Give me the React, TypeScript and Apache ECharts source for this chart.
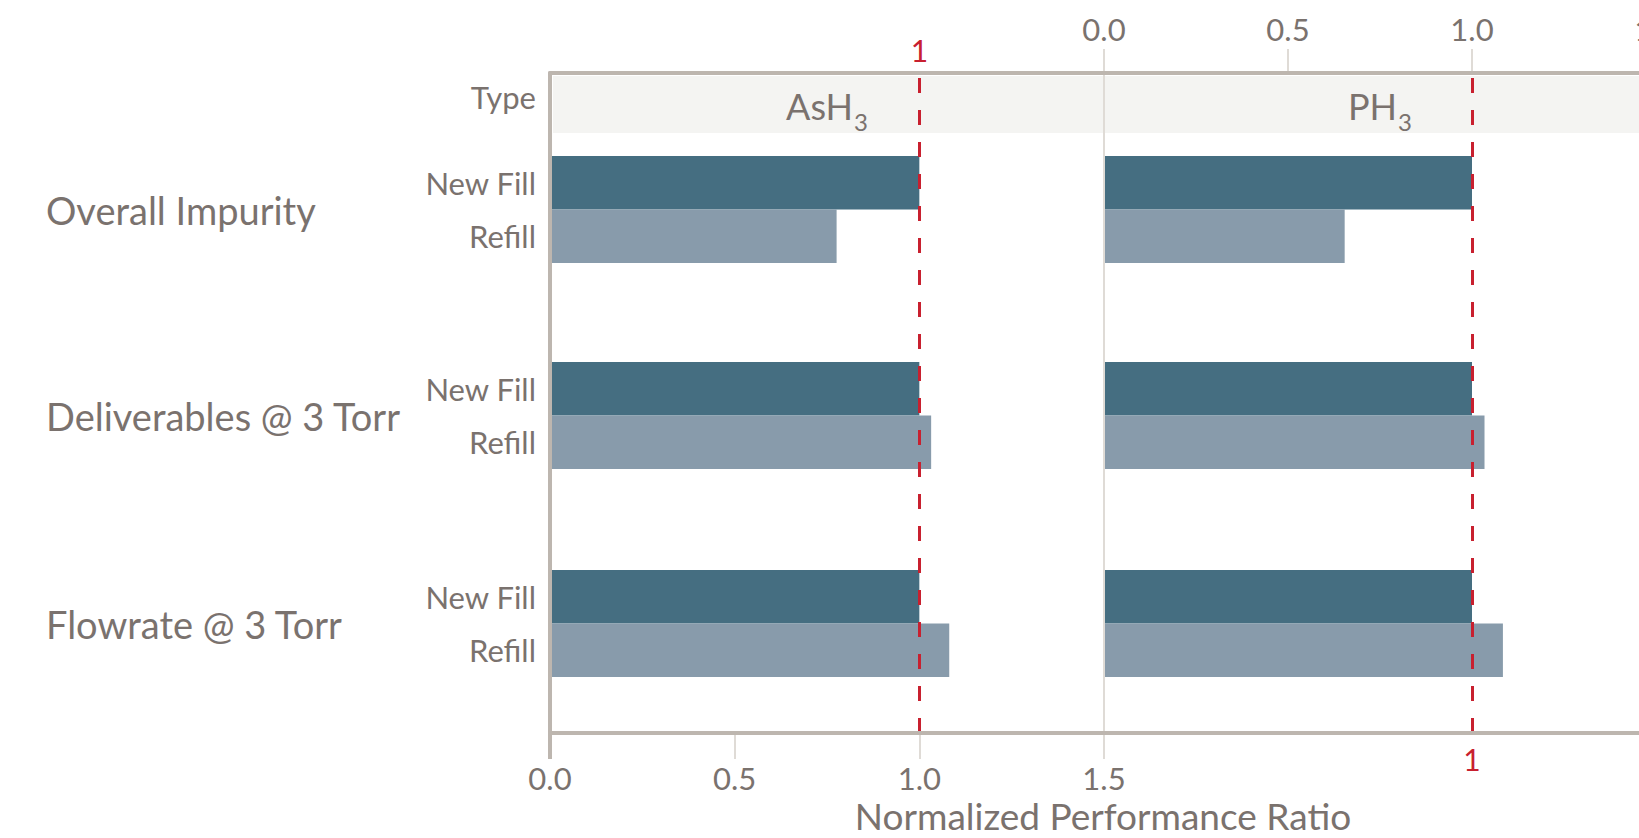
import React, { useEffect, useRef } from "react";
import * as echarts from "echarts";

// ---- data ----
const PANELS = ["AsH3", "PH3"];
const ROW_HEADER = "Type";
const GROUPS = ["Overall Impurity", "Deliverables @ 3 Torr", "Flowrate @ 3 Torr"];
const FILLS = ["New Fill", "Refill"];
const ASH3_NEW_FILL = [1.0, 1.0, 1.0];
const ASH3_REFILL = [0.776, 1.032, 1.081];
const PH3_NEW_FILL = [1.0, 1.0, 1.0];
const PH3_REFILL = [0.654, 1.034, 1.084];
const X_MIN = 0;
const X_MAX = 1.5;
const X_STEP = 0.5;
const REFERENCE = 1;
const X_TITLE = "Normalized Performance Ratio";

// ---- style ----
const TEXT = "#7a726e";
const BORDER = "#bdb6af";
const LIGHT = "#dfdbd6";
const BAND = "#f4f4f2";
const RED = "#c8202f";
const NEW_COLOR = "#456e81";
const REFILL_COLOR = "#889bab";
const FONT = "Lato, 'Open Sans', sans-serif";
const WEIGHT = 400;

// ---- layout ----
const W = 1639;
const H = 838;
const LEFT = 550;
const SEP = 1104;
const RIGHT = 1656;
const TOP = 73;
const BOTTOM = 733;
const HEADER_BOTTOM = 133;
const GROUP_TOPS = [156, 362, 570];
const GROUP_H = 107;

const panelValues = [
  [ASH3_NEW_FILL, ASH3_REFILL],
  [PH3_NEW_FILL, PH3_REFILL],
];

const txt = (size: number, extra: any = {}) => ({
  fontSize: size, color: TEXT, fontFamily: FONT, fontWeight: WEIGHT, ...extra,
});

function buildOption() {
  const grid: any[] = [
    { left: LEFT, top: TOP, width: RIGHT - LEFT, height: BOTTOM - TOP },
    { left: LEFT, top: TOP, width: SEP - LEFT, height: BOTTOM - TOP },
    { left: SEP, top: TOP, width: RIGHT - SEP, height: BOTTOM - TOP },
  ];
  const xAxis: any[] = [
    {
      gridIndex: 0, type: "value", min: 0, max: 1, position: "bottom", z: 12,
      axisLine: { show: true, onZero: false, lineStyle: { color: BORDER, width: 4 } },
      axisTick: { show: true, customValues: [0], length: 26, lineStyle: { color: BORDER, width: 4 } },
      axisLabel: { show: false }, splitLine: { show: false },
      name: X_TITLE, nameLocation: "middle", nameGap: 64,
      nameTextStyle: txt(37),
    },
    {
      gridIndex: 0, type: "value", min: 0, max: 1, position: "top", z: 12,
      axisLine: { show: true, onZero: false, lineStyle: { color: BORDER, width: 4 } },
      axisTick: { show: false }, axisLabel: { show: false }, splitLine: { show: false },
    },
    {
      gridIndex: 1, type: "value", min: X_MIN, max: X_MAX, interval: X_STEP, position: "bottom", z: 10,
      axisLine: { show: false, onZero: false },
      axisTick: { show: true, length: 26, lineStyle: { color: LIGHT, width: 2 } },
      axisLabel: { ...txt(31), margin: 29, formatter: (v: number) => v.toFixed(1) },
      splitLine: { show: false },
    },
    {
      gridIndex: 2, type: "value", min: X_MIN, max: X_MAX, interval: X_STEP, position: "top", z: 10,
      axisLine: { show: false, onZero: false },
      axisTick: { show: true, length: 24, lineStyle: { color: LIGHT, width: 2 } },
      axisLabel: { ...txt(31), margin: 29, formatter: (v: number) => v.toFixed(1) },
      splitLine: { show: false },
    },
  ];
  const yAxis: any[] = [
    {
      gridIndex: 0, type: "value", min: 0, max: 1, z: 12,
      axisLine: { show: true, onZero: false, lineStyle: { color: BORDER, width: 4 } },
      axisTick: { show: false }, axisLabel: { show: false }, splitLine: { show: false },
    },
    { gridIndex: 1, type: "value", min: 0, max: 1, show: false, axisLine: { onZero: false } },
    {
      gridIndex: 2, type: "value", min: 0, max: 1, z: 10,
      axisLine: { show: true, onZero: false, lineStyle: { color: LIGHT, width: 2 } },
      axisTick: { show: false }, axisLabel: { show: false }, splitLine: { show: false },
    },
  ];
  const series: any[] = [
    {
      type: "line", xAxisIndex: 2, yAxisIndex: 1, data: [], z: 1,
      markLine: {
        silent: true, symbol: ["none", "none"], animation: false,
        lineStyle: { color: RED, width: 3, type: [15, 17] },
        label: { show: true, position: "end", distance: 8, formatter: String(REFERENCE), ...txt(30), color: RED },
        data: [{ xAxis: REFERENCE }],
      },
    },
    {
      type: "line", xAxisIndex: 3, yAxisIndex: 2, data: [], z: 1,
      markLine: {
        silent: true, symbol: ["none", "none"], animation: false,
        lineStyle: { color: RED, width: 3, type: [15, 17] },
        label: { show: true, position: "start", distance: 11, formatter: String(REFERENCE), ...txt(30), color: RED },
        data: [{ xAxis: REFERENCE }],
      },
    },
  ];

  PANELS.forEach((_, p) => {
    GROUPS.forEach((group, g) => {
      const gi = grid.length;
      const left = p === 0 ? LEFT : SEP;
      const right = p === 0 ? SEP : RIGHT;
      grid.push({ left, top: GROUP_TOPS[g], width: right - left, height: GROUP_H });
      xAxis.push({ gridIndex: gi, type: "value", min: X_MIN, max: X_MAX, show: false, axisLine: { onZero: false } });
      yAxis.push(
        p === 0
          ? {
              gridIndex: gi, type: "category", data: FILLS, inverse: true,
              axisLine: { show: false, onZero: false }, axisTick: { show: false }, splitLine: { show: false },
              axisLabel: { ...txt(31), margin: 14 },
              name: group, nameLocation: "middle", nameRotate: 0, nameGap: LEFT - 46,
              nameMoveOverlap: false,
              nameTextStyle: txt(38, { align: "left", verticalAlign: "middle" }),
            }
          : { gridIndex: gi, type: "category", data: FILLS, inverse: true, show: false, axisLine: { onZero: false } }
      );
      series.push({
        type: "bar", xAxisIndex: xAxis.length - 1, yAxisIndex: yAxis.length - 1, z: 2,
        barCategoryGap: "0%",
        data: [
          { value: panelValues[p][0][g], itemStyle: { color: NEW_COLOR } },
          { value: panelValues[p][1][g], itemStyle: { color: REFILL_COLOR } },
        ],
      });
    });
  });

  grid.forEach((gr) => {
    gr.containLabel = false;
    gr.outerBoundsMode = "none";
  });

  const graphic: any[] = [
    {
      type: "rect", z: 5,
      shape: { x: LEFT + 3, y: TOP + 3, width: W - LEFT, height: HEADER_BOTTOM - TOP - 3 },
      style: { fill: BAND },
    },
    {
      type: "text", z: 20, x: LEFT - 14, y: 97,
      style: { text: ROW_HEADER, fill: TEXT, fontSize: 31, fontWeight: WEIGHT, fontFamily: FONT, align: "right", verticalAlign: "middle" },
    },
  ];
  PANELS.forEach((name, p) => {
    const left = p === 0 ? LEFT : SEP;
    const right = p === 0 ? SEP : RIGHT;
    graphic.push({
      type: "text", z: 20, x: (left + right) / 2, y: 106,
      style: {
        text: name.replace(/^(\D+)(\d+)$/, "{b|$1}{s|$2}"),
        fill: TEXT,
        align: "center", verticalAlign: "middle",
        rich: {
          b: { fontSize: 36, lineHeight: 36, fill: TEXT, fontWeight: WEIGHT, fontFamily: FONT, verticalAlign: "top" },
          s: { fontSize: 24, lineHeight: 24, fill: TEXT, fontWeight: WEIGHT, fontFamily: FONT, verticalAlign: "top", padding: [21, 0, 0, 1] },
        },
      },
    });
  });

  return {
    animation: false,
    backgroundColor: "#ffffff",
    textStyle: { fontFamily: FONT },
    grid, xAxis, yAxis, series, graphic,
  };
}

export default function App() {
  const ref = useRef<HTMLDivElement>(null);
  useEffect(() => {
    if (!ref.current) return;
    const chart = echarts.init(ref.current, null, { renderer: "svg" });
    chart.setOption(buildOption() as any);
    return () => chart.dispose();
  }, []);
  return <div ref={ref} style={{ width: W, height: H, position: "absolute", left: 0, top: 0 }} />;
}
